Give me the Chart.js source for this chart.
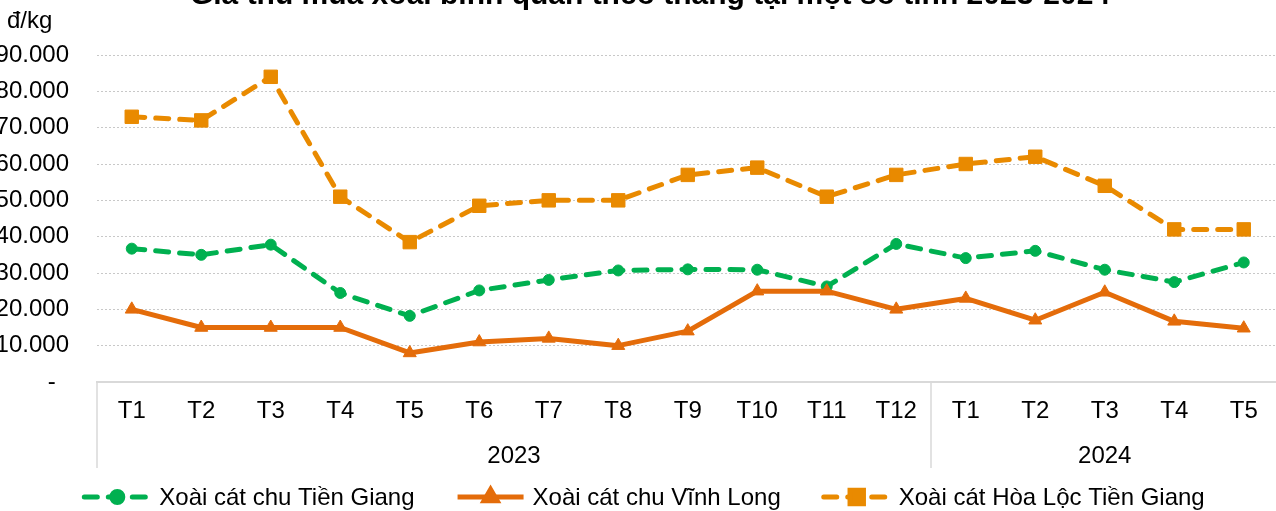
<!DOCTYPE html>
<html><head><meta charset="utf-8">
<script src="https://cdn.jsdelivr.net/npm/chart.js@4.4.1/dist/chart.umd.min.js"></script>
<style>html,body{margin:0;padding:0;overflow:hidden;background:#fff;}#wrap{width:1280px;height:511px;}</style>
</head><body><div id="wrap"><canvas id="c" width="1280" height="511"></canvas></div>
<script>
const titleText = 'Giá thu mua xoài bình quân theo tháng tại một số tỉnh 2023-2024';
const unitLabel = 'đ/kg';
const months = ['T1','T2','T3','T4','T5','T6','T7','T8','T9','T10','T11','T12','T1','T2','T3','T4','T5'];
const years = ['2023','2024'];
const yearSpans = [12, 5];
const seriesNames = ['Xoài cát chu Tiền Giang','Xoài cát chu Vĩnh Long','Xoài cát Hòa Lộc Tiền Giang'];
const tienGiang = [36700,35000,37800,24500,18200,25200,28100,30700,31000,30900,26300,38000,34100,36100,30900,27500,32900];
const vinhLong  = [20000,15000,15000,15000,8000,11000,12000,10000,14000,25000,25000,20000,23000,17000,24700,16700,14800];
const hoaLoc    = [73000,72000,84000,51000,38500,48500,50000,50000,57000,59000,51000,57000,60000,62000,54000,42000,42000];
const yMin = 0, yMax = 90000, yStep = 10000;

const FONT = "'Liberation Sans', Arial, sans-serif";
const colors = ['#00B050', '#E46C0A', '#E98A00'];

function fmt(v){ return v === 0 ? '-  ' : String(v).replace(/\B(?=(\d{3})+(?!\d))/g, '.'); }

const extras = {
  id: 'extras',
  afterDraw(chart){
    const ctx = chart.ctx, xs = chart.scales.x, ca = chart.chartArea;
    ctx.save();
    ctx.fillStyle = '#000';
    ctx.font = 'bold 30px ' + FONT;
    ctx.textAlign = 'center'; ctx.textBaseline = 'alphabetic';
    ctx.fillText(titleText, 650, 4);
    ctx.font = '24px ' + FONT;
    ctx.textAlign = 'left';
    ctx.fillText(unitLabel, 7, 28);
    const w = xs.width / months.length;
    ctx.strokeStyle = '#d9d9d9'; ctx.lineWidth = 1.5;
    let cum = 0;
    const bounds = [xs.left];
    yearSpans.forEach(s => { cum += s; bounds.push(xs.left + cum * w); });
    bounds.forEach(bx => {
      ctx.beginPath(); ctx.moveTo(bx, ca.bottom); ctx.lineTo(bx, ca.bottom + 86); ctx.stroke();
    });
    ctx.textAlign = 'center'; ctx.textBaseline = 'middle'; ctx.fillStyle = '#000';
    years.forEach((y, i) => ctx.fillText(y, (bounds[i] + bounds[i+1]) / 2, 456));
    const lineLen = 66, gapText = 9, gapItem = 43, ly = 497;
    const widths = chart.data.datasets.map(d => ctx.measureText(d.label).width);
    const total = widths.reduce((a,b)=>a+b,0) + 3*(lineLen+gapText) + 2*gapItem;
    let x = 644.5 - total/2;
    chart.data.datasets.forEach((d, i) => {
      ctx.save();
      ctx.strokeStyle = d.borderColor; ctx.lineWidth = d.borderWidth;
      ctx.lineCap = d.borderCapStyle || 'butt';
      ctx.setLineDash(d.borderDash || []);
      ctx.beginPath(); ctx.moveTo(x, ly); ctx.lineTo(x + lineLen, ly); ctx.stroke();
      ctx.setLineDash([]);
      ctx.fillStyle = d.pointBackgroundColor; ctx.strokeStyle = d.pointBorderColor;
      Chart.helpers.drawPoint(ctx, {pointStyle: d.pointStyle, radius: d.pointRadius, borderWidth: d.pointBorderWidth, rotation: 0}, x + lineLen/2, ly);
      ctx.restore();
      ctx.fillStyle = '#000'; ctx.textAlign = 'left'; ctx.textBaseline = 'middle';
      ctx.fillText(d.label, x + lineLen + gapText, ly + 1);
      x += lineLen + gapText + widths[i] + gapItem;
    });
    ctx.restore();
  }
};

const mk = (label, data, color, dash, style, r, order) => ({
  label, data, order,
  borderColor: color, backgroundColor: color,
  borderWidth: 5, borderDash: dash, borderCapStyle: dash.length ? 'round' : 'butt',
  borderJoinStyle: 'round',
  pointStyle: style, pointRadius: r, pointHoverRadius: r,
  pointBackgroundColor: color, pointBorderColor: color, pointBorderWidth: 1,
  tension: 0, clip: false
});

new Chart(document.getElementById('c'), {
  type: 'line',
  data: {
    labels: months,
    datasets: [
      mk(seriesNames[0], tienGiang, colors[0], [13, 11], 'circle', 5.5, 3),
      mk(seriesNames[1], vinhLong, colors[1], [], 'triangle', 7.5, 2),
      mk(seriesNames[2], hoaLoc, colors[2], [13, 11], 'rect', 9.5, 1)
    ]
  },
  options: {
    responsive: false, animation: false,
    layout: { autoPadding: false, padding: { top: 55, left: 0, right: 1.5, bottom: 0 } },
    plugins: { legend: { display: false }, tooltip: { enabled: false }, title: { display: false } },
    scales: {
      x: {
        offset: true,
        grid: { display: false, drawTicks: false },
        border: { display: true, color: '#d9d9d9', width: 2 },
        ticks: { color: '#000', font: { family: FONT, size: 24 }, padding: 15, maxRotation: 0, autoSkip: false },
        afterFit: s => { s.height = 129; s.paddingLeft = 0; s.paddingRight = 0; }
      },
      y: {
        min: yMin, max: yMax,
        grid: { color: '#c8c8c8', lineWidth: 1, drawTicks: false },
        border: { display: false, dash: [2, 2] },
        ticks: { stepSize: yStep, color: '#000', font: { family: FONT, size: 24 }, padding: 28, callback: v => fmt(v) },
        afterFit: s => { s.width = 97; s.paddingTop = 0; s.paddingBottom = 0; }
      }
    }
  },
  plugins: [extras]
});
</script></body></html>
